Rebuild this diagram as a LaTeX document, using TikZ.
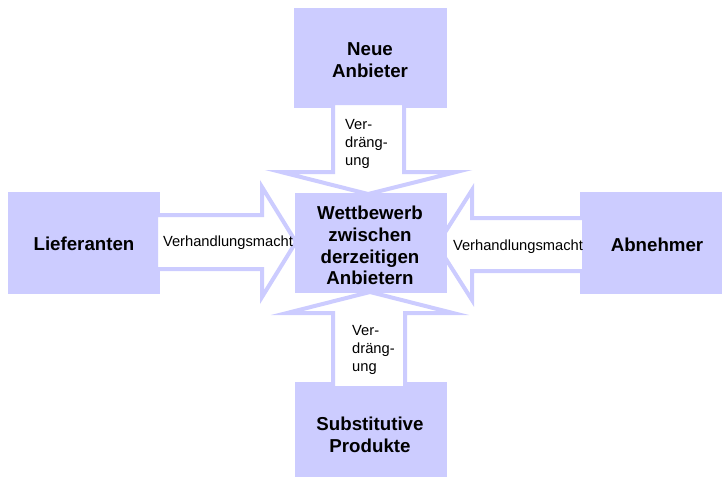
\documentclass[tikz,border=0pt]{standalone}
\usepackage{fontspec}
\setmainfont{Liberation Sans}
\definecolor{lav}{HTML}{CCCCFF}
\begin{document}
\begin{tikzpicture}[x=1pt,y=-1pt,
  box/.style={fill=lav, draw=none, inner sep=0pt},
  big/.style={font=\fontsize{18.7}{21.7}\selectfont\bfseries, align=center, inner sep=0pt},
  small/.style={font=\fontsize{14.7}{17.8}\selectfont, align=left, inner sep=0pt},
  barrow/.style={draw=lav, fill=white, line width=4pt, line join=miter}]
\useasboundingbox (0,0) rectangle (722,479);
% outer boxes
\node[box, minimum width=153pt, minimum height=100pt] (neu) at (370.5,58) {};
\node[box, minimum width=152pt, minimum height=102pt] (lief) at (84,243) {};
\node[box, minimum width=142pt, minimum height=102pt] (abn) at (651,243) {};
\node[box, minimum width=152pt, minimum height=95pt] (sub) at (371,429.5) {};
% block arrows
\draw[barrow] (333,103) -- (404,103) -- (404,172) -- (456,172) -- (368,194) -- (281,172) -- (333,172) -- cycle;
\draw[barrow] (333,388) -- (405,388) -- (405,313) -- (453,313) -- (370,292) -- (287,313) -- (333,313) -- cycle;
\draw[barrow] (156,215) -- (262,215) -- (262,187) -- (296,242) -- (262,297) -- (262,269) -- (156,269) -- cycle;
\draw[barrow] (584,218) -- (472,218) -- (472,190) -- (437,245) -- (472,300) -- (472,271) -- (584,271) -- cycle;
% centre box
\node[box, minimum width=152pt, minimum height=100pt] (wett) at (371,243) {};
% labels
\node[big] (tneu) at (370,60) {Neue\\Anbieter};
\node[big] (tlief) at (84,244) {Lieferanten};
\node[big] (tabn) at (657,245) {Abnehmer};
\node[big] (tsub) at (370,435) {Substitutive\\Produkte};
\node[big] (twett) at (370,245.5) {Wettbewerb\\zwischen\\derzeitigen\\Anbietern};
\node[small] (vl) at (228,243) {Verhandlungsmacht};
\node[small] (vr) at (518,247) {Verhandlungsmacht};
\node[small, anchor=west] (vt) at (345,144) {Ver-\\dräng-\\ung};
\node[small, anchor=west] (vb) at (352,350) {Ver-\\dräng-\\ung};
\end{tikzpicture}
\end{document}
